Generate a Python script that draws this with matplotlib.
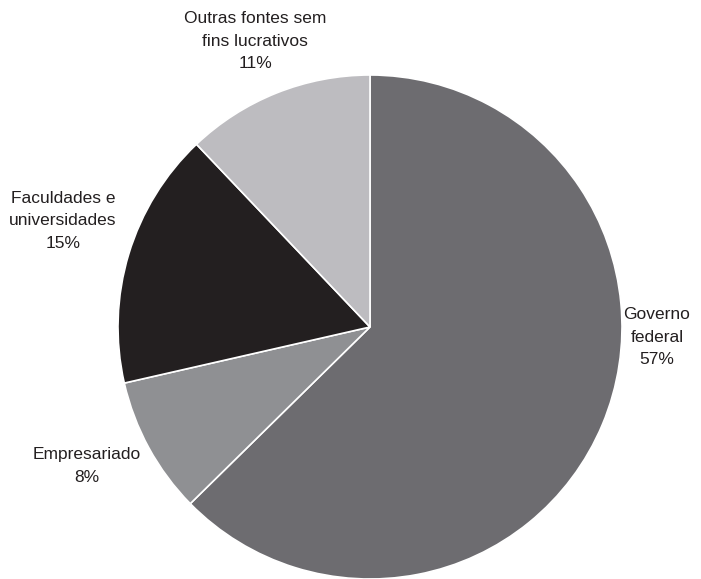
import matplotlib.pyplot as plt
from matplotlib import font_manager

# funding sources and their shares (percent)
fontes = ['Governo\nfederal', 'Empresariado', 'Faculdades e\nuniversidades', 'Outras fontes sem\nfins lucrativos']
percentuais = [57, 8, 15, 11]
cores = ['#6d6c70', '#8f9093', '#231f20', '#bdbcc0']

# label centres in pixels (x, y from top)
pos_rotulos = [(657, 337), (87, 466), (63, 221), (255, 41)]

nomes = {f.name for f in font_manager.fontManager.ttflist}
fonte = 'Liberation Sans Narrow' if 'Liberation Sans Narrow' in nomes else 'Liberation Sans'
plt.rcParams['font.family'] = [fonte, 'DejaVu Sans']

W, H = 701, 579
fig = plt.figure(figsize=(W / 100, H / 100), dpi=100)
cx, cy, r = 370, 327, 252
ax = fig.add_axes([(cx - r) / W, (H - cy - r) / H, 2 * r / W, 2 * r / H])

ax.pie(percentuais, colors=cores, startangle=90, counterclock=False,
       wedgeprops={'edgecolor': 'white', 'linewidth': 1.2})
ax.set_xlim(-1, 1)
ax.set_ylim(-1, 1)
ax.set_aspect('equal')
ax.axis('off')

for nome, p, (x, y) in zip(fontes, percentuais, pos_rotulos):
    fig.text(x / W, 1 - y / H, f'{nome}\n{p}%', ha='center', va='center',
             fontsize=12.5, color='#231f20', linespacing=1.6)

fig.savefig('out.png', dpi=100, facecolor='white')
